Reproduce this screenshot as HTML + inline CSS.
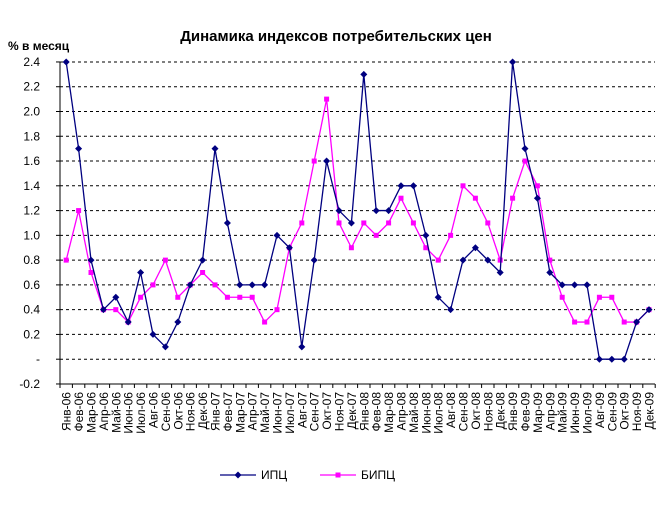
<!DOCTYPE html>
<html><head><meta charset="utf-8"><style>
body{margin:0;background:#fff}
svg text{font-family:"Liberation Sans",Arial,sans-serif}
</style></head><body>
<svg id="s" width="671" height="503" xmlns="http://www.w3.org/2000/svg">
<text x="336" y="41" text-anchor="middle" font-size="15" font-weight="bold">Динамика индексов потребительских цен</text>
<text x="8" y="50" font-size="12" font-weight="bold">% в месяц</text>
</svg>
<script>
const s=document.getElementById('s'),NS='http://www.w3.org/2000/svg';
function el(t,a,txt){const e=document.createElementNS(NS,t);for(const k in a)e.setAttribute(k,a[k]);if(txt!==undefined)e.textContent=txt;s.appendChild(e);return e;}
const x0=60,step=12.4,yv=v=>359.2-v*123.85;
for(let i=0;i<=13;i++){const v=2.4-i*0.2,y=yv(v);
 if(i<13)el('line',{x1:x0,x2:655,y1:y,y2:y,stroke:'#000','stroke-dasharray':'3,3','stroke-width':1});
 el('line',{x1:x0-4,x2:x0,y1:y,y2:y,stroke:'#000'});
 let lab=Math.abs(v)<0.01?'-':v.toFixed(1);
 el('text',{x:40,y:y+4,'text-anchor':'end','font-size':12},lab);}
el('line',{x1:x0,x2:x0,y1:yv(2.4),y2:yv(-0.2),stroke:'#000'});
el('line',{x1:x0,x2:655,y1:yv(-0.2),y2:yv(-0.2),stroke:'#000'});
const m=['Янв','Фев','Мар','Апр','Май','Июн','Июл','Авг','Сен','Окт','Ноя','Дек'];
for(let i=0;i<=48;i++){const x=x0+i*step;el('line',{x1:x,x2:x,y1:yv(-0.2),y2:yv(-0.2)+4,stroke:'#000'});
 if(i<48){const cx=x+step/2+4.5;const lab=m[i%12]+'-0'+(6+Math.floor(i/12));
 el('text',{x:cx,y:392,'text-anchor':'end','font-size':12,transform:`rotate(-90 ${cx} 392)`},lab);}}
const a=[2.4,1.7,0.8,0.4,0.5,0.3,0.7,0.2,0.1,0.3,0.6,0.8,1.7,1.1,0.6,0.6,0.6,1.0,0.9,0.1,0.8,1.6,1.2,1.1,2.3,1.2,1.2,1.4,1.4,1.0,0.5,0.4,0.8,0.9,0.8,0.7,2.4,1.7,1.3,0.7,0.6,0.6,0.6,0,0,0,0.3,0.4];
const b=[0.8,1.2,0.7,0.4,0.4,0.3,0.5,0.6,0.8,0.5,0.6,0.7,0.6,0.5,0.5,0.5,0.3,0.4,0.9,1.1,1.6,2.1,1.1,0.9,1.1,1.0,1.1,1.3,1.1,0.9,0.8,1.0,1.4,1.3,1.1,0.8,1.3,1.6,1.4,0.8,0.5,0.3,0.3,0.5,0.5,0.3,0.3,0.4];
function series(d,c,sq){const pts=d.map((v,i)=>[x0+step/2+i*step,yv(v)]);
 el('polyline',{points:pts.map(p=>p.join(',')).join(' '),fill:'none',stroke:c,'stroke-width':1.3});
 pts.forEach(p=>{if(sq)el('rect',{x:p[0]-2.5,y:p[1]-2.5,width:5,height:5,fill:c});
 else el('polygon',{points:`${p[0]},${p[1]-3.5} ${p[0]+3.5},${p[1]} ${p[0]},${p[1]+3.5} ${p[0]-3.5},${p[1]}`,fill:c});});}
series(b,'#FF00FF',true);series(a,'#000080',false);
el('line',{x1:220,x2:256,y1:475,y2:475,stroke:'#000080','stroke-width':1.3});
el('polygon',{points:'238,471.5 241.5,475 238,478.5 234.5,475',fill:'#000080'});
el('text',{x:261,y:479,'font-size':12},'ИПЦ');
el('line',{x1:320,x2:356,y1:475,y2:475,stroke:'#FF00FF','stroke-width':1.3});
el('rect',{x:335.5,y:472.5,width:5,height:5,fill:'#FF00FF'});
el('text',{x:361,y:479,'font-size':12},'БИПЦ');
</script>
</body></html>
